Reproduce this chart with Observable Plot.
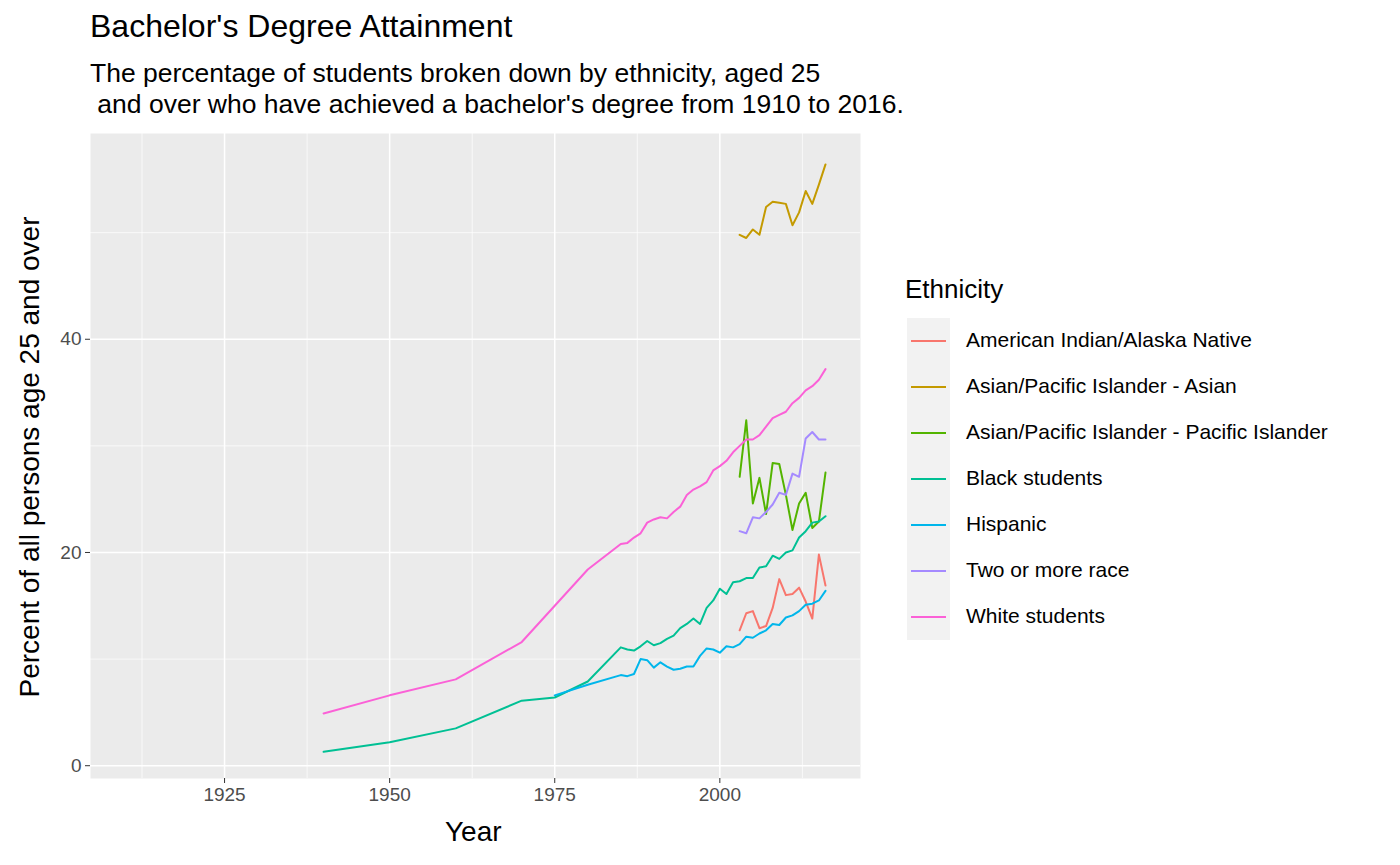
<!DOCTYPE html>
<html><head><meta charset="utf-8">
<script src="https://cdn.jsdelivr.net/npm/d3@7"></script>
<script src="https://cdn.jsdelivr.net/npm/@observablehq/plot@0.6"></script>
<style>
body{margin:0;background:#fff;font-family:"Liberation Sans",Arial,sans-serif;}
#wrap{position:relative;width:1400px;height:865px;}
.t{position:absolute;color:#000;white-space:pre;}
#legend{position:absolute;left:905px;top:318px;}
.row{position:relative;height:46px;white-space:nowrap;}
.key{position:absolute;left:2px;top:0;width:43px;height:46px;background:#f2f2f2;}
.key i{position:absolute;left:4px;right:4px;top:22px;height:2.2px;}
.lab{position:absolute;left:61px;top:10px;font-size:21px;color:#000;white-space:nowrap;}
#chart svg text{font-size:19px;fill:#4d4d4d;}
</style></head>
<body><div id="wrap">
<div class="t" style="left:90px;top:8px;font-size:32px;">Bachelor's Degree Attainment</div>
<div class="t" style="left:90px;top:58px;font-size:26.5px;line-height:31px;">The percentage of students broken down by ethnicity, aged 25
 and over who have achieved a bachelor's degree from 1910 to 2016.</div>
<div class="t" style="left:445px;top:816px;font-size:28px;">Year</div>
<div class="t" style="left:30px;top:457px;font-size:28px;transform:translate(-50%,-50%) rotate(-90deg);">Percent of all persons age 25 and over</div>
<div id="chart" style="position:absolute;left:0;top:120px;"></div>
<div id="legend"><div style="position:absolute;top:-44px;font-size:26px;white-space:nowrap;">Ethnicity</div></div>
</div>
<script>
const groups = ["American Indian/Alaska Native","Asian/Pacific Islander - Asian","Asian/Pacific Islander - Pacific Islander","Black students","Hispanic","Two or more race","White students"];
const colors = ["#F8766D","#C49A00","#53B400","#00C094","#00B6EB","#A58AFF","#FB61D7"];

const longYears = [1940,1950,1960,1970,1975,1980,1985,1986,1987,1988,1989,1990,1991,1992,1993,1994,1995,1996,1997,1998,1999,2000,2001,2002,2003,2004,2005,2006,2007,2008,2009,2010,2011,2012,2013,2014,2015,2016];
const whiteVals = [4.9,6.6,8.1,11.6,15.0,18.4,20.8,20.9,21.4,21.8,22.8,23.1,23.3,23.2,23.8,24.3,25.4,25.9,26.2,26.6,27.7,28.1,28.6,29.4,30.0,30.6,30.6,31.0,31.8,32.6,32.9,33.2,34.0,34.5,35.2,35.6,36.2,37.2];
const blackVals = [1.3,2.2,3.5,6.1,6.4,7.9,11.1,10.9,10.8,11.2,11.7,11.3,11.5,11.9,12.2,12.9,13.3,13.8,13.3,14.8,15.5,16.6,16.1,17.2,17.3,17.6,17.6,18.6,18.7,19.7,19.4,20.0,20.2,21.4,22.0,22.8,22.9,23.4];
const hispYears = longYears.slice(4);
const hispVals = [6.6,7.6,8.5,8.4,8.6,10.0,9.9,9.2,9.7,9.3,9.0,9.1,9.3,9.3,10.3,11.0,10.9,10.6,11.2,11.1,11.4,12.1,12.0,12.4,12.7,13.3,13.2,13.9,14.1,14.5,15.1,15.2,15.5,16.4];
const recentYears = d3.range(2003, 2017);
const asianVals = [49.8,49.5,50.3,49.8,52.4,52.9,52.8,52.7,50.7,51.9,53.9,52.7,54.5,56.4];
const pacificVals = [27.1,32.4,24.6,27.0,23.6,28.4,28.3,25.4,22.1,24.6,25.6,22.3,22.9,27.5];
const twoVals = [22.0,21.8,23.3,23.2,23.8,24.5,25.6,25.4,27.4,27.1,30.7,31.3,30.6,30.6];
const aianVals = [12.7,14.3,14.5,12.9,13.1,14.8,17.5,16.0,16.1,16.7,15.4,13.8,19.8,16.9];

const xMajor = [1925,1950,1975,2000];
const xMinor = [1912.5,1937.5,1962.5,1987.5,2012.5];
const yMajor = [0,20,40];
const yMinor = [10,30,50];

const series = [
  [groups[0], recentYears, aianVals],
  [groups[1], recentYears, asianVals],
  [groups[2], recentYears, pacificVals],
  [groups[3], longYears, blackVals],
  [groups[4], hispYears, hispVals],
  [groups[5], recentYears, twoVals],
  [groups[6], longYears, whiteVals]
];
const data = series.flatMap(([g, ys, vs]) => ys.map((y, i) => ({group: g, year: y, value: vs[i]})));

const chart = Plot.plot({
  width: 880, height: 745,
  marginLeft: 90, marginRight: 20, marginTop: 13, marginBottom: 87,
  style: {fontFamily: "Liberation Sans, Arial, sans-serif", color: "#4d4d4d", background: "transparent"},
  x: {domain: [1904.7, 2021.3], label: null},
  y: {domain: [-1.2, 59.3], label: null},
  color: {domain: groups, range: colors},
  marks: [
    Plot.frame({fill: "#ebebeb", stroke: null}),
    Plot.ruleX(xMinor, {stroke: "#fff", strokeWidth: 0.7}),
    Plot.ruleY(yMinor, {stroke: "#fff", strokeWidth: 0.7}),
    Plot.ruleX(xMajor, {stroke: "#fff", strokeWidth: 1.5}),
    Plot.ruleY(yMajor, {stroke: "#fff", strokeWidth: 1.5}),
    Plot.axisX({ticks: xMajor, tickFormat: d => String(d), tickSize: 5, stroke: "#333", tickPadding: 4, label: null}),
    Plot.axisY({ticks: yMajor, tickSize: 5, stroke: "#333", tickPadding: 4, label: null}),
    Plot.line(data, {x: "year", y: "value", z: "group", stroke: "group", strokeWidth: 2})
  ]
});
document.getElementById("chart").appendChild(chart);

const legend = document.getElementById("legend");
groups.forEach((g, i) => {
  const row = document.createElement("div");
  row.className = "row";
  row.innerHTML = `<div class="key"><i style="background:${colors[i]}"></i></div><div class="lab">${g}</div>`;
  legend.appendChild(row);
});
</script>
</body></html>
